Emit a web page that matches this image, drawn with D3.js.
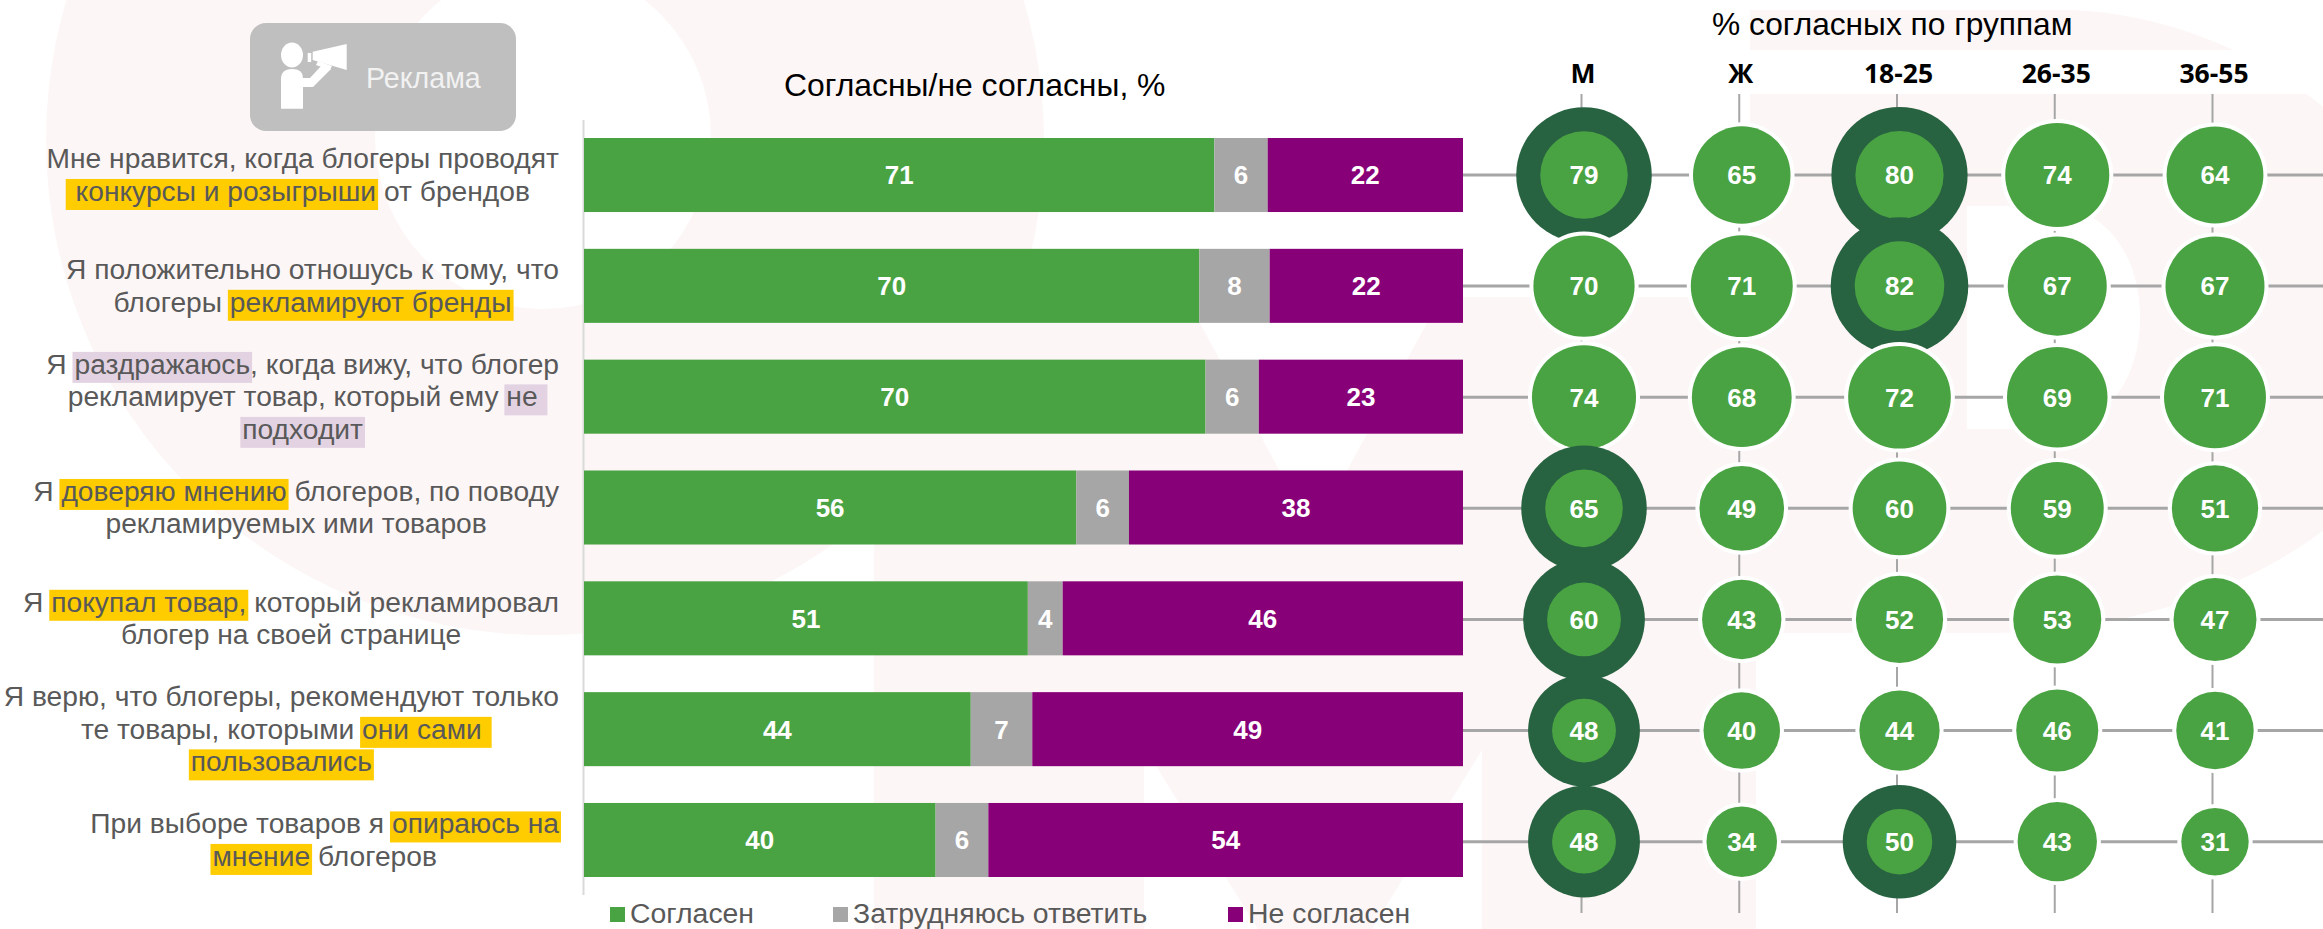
<!DOCTYPE html>
<html lang="ru">
<head>
<meta charset="utf-8">
<title>Реклама у блогеров</title>
<script src="https://cdn.jsdelivr.net/npm/d3@7/dist/d3.min.js"></script>
<style>
  html, body { margin: 0; padding: 0; background: #fff; }
  svg { display: block; }
  text { font-family: "Liberation Sans", Arial, sans-serif; white-space: pre; }
</style>
</head>
<body>
<svg id="chart" width="2323" height="929"></svg>
<script>
// Survey data
const agree    = [71, 70, 70, 56, 51, 44, 40];
const unsure   = [6, 8, 6, 6, 4, 7, 6];
const disagree = [22, 22, 23, 38, 46, 49, 54];

const groups = ["М", "Ж", "18-25", "26-35", "36-55"];
const groupM      = [79, 70, 74, 65, 60, 48, 48];
const groupF      = [65, 71, 68, 49, 43, 40, 34];
const group18to25 = [80, 82, 72, 60, 52, 44, 50];
const group26to35 = [74, 67, 69, 59, 53, 46, 43];
const group36to55 = [64, 67, 71, 51, 47, 41, 31];
const groupValues = [groupM, groupF, group18to25, group26to35, group36to55];

// Cells that stand out from the average, as [group index, statement index]
const standout = [[0, 0], [0, 3], [0, 4], [0, 5], [0, 6], [2, 0], [2, 1], [2, 6]];

const legendLabels = ["Согласен", "Затрудняюсь ответить", "Не согласен"];

// Statements by line; the second item of a segment names its marker ("y" or "p")
const statements = [
  [[["Мне нравится, когда блогеры проводят"]],
   [[" конкурсы и розыгрыши", "y"], [" от брендов"]]],
  [[["Я положительно отношусь к тому, что"]],
   [["блогеры "], ["рекламируют бренды", "y"]]],
  [[["Я "], ["раздражаюсь", "p"], [", когда вижу, что блогер"]],
   [["рекламирует товар, который ему "], ["не ", "p"]],
   [["подходит", "p"]]],
  [[["Я "], ["доверяю мнению", "y"], [" блогеров, по поводу"]],
   [["рекламируемых ими товаров"]]],
  [[["Я "], ["покупал товар,", "y"], [" который рекламировал"]],
   [["блогер на своей странице"]]],
  [[["Я верю, что блогеры, рекомендуют только"]],
   [["те товары, которыми "], ["они сами ", "y"]],
   [["пользовались", "y"]]],
  [[["При выборе товаров я "], ["опираюсь на", "y"]],
   [["мнение", "y"], [" блогеров"]]]
];

const colors = { agree: "#4aa343", unsure: "#a6a6a6", disagree: "#880078", ring: "#286341" };
const markerFill = { y: "#ffcc00", p: "#e3d3e2" };
const textGrey = "#595959";
const wash = "#fdf6f6";

const svg = d3.select("#chart");

// Pale backdrop lettering
const backdrop = svg.append("g").attr("fill", wash);
const ellipsePath = (cx, cy, rx, ry) =>
  `M${cx - rx},${cy}A${rx},${ry} 0 1 0 ${cx + rx},${cy}A${rx},${ry} 0 1 0 ${cx - rx},${cy}Z`;

backdrop.append("path")
  .attr("fill-rule", "evenodd")
  .attr("d", ellipsePath(545, 140, 499, 495) + ellipsePath(543, 137, 168, 172));

backdrop.append("path")
  .attr("d", d3.line()([[874, 297], [1186, 297], [1313, 533], [1441, 297], [1756, 297], [1756, 929],
    [1482, 929], [1482, 750], [1372, 929], [1258, 929], [1144, 747], [1144, 929], [874, 929]]) + "Z");

backdrop.append("path")
  .attr("fill-rule", "evenodd")
  .attr("d", "M1750 10H2060C2250 10 2440 160 2440 320C2440 500 2230 633 1985 633H1750Z" +
             "M1967 206H2050C2105 206 2140 255 2140 317C2140 380 2105 429 2050 429H1967Z");

svg.append("rect").attr("x", 1480).attr("y", 50).attr("width", 843).attr("height", 44).attr("fill", "#fff");

// Stacked bars, each normalised to the full width
const x = d3.scaleLinear().domain([0, 1]).range([584, 1463]);
const rowIndex = d3.range(agree.length);
const barY = d3.scaleBand().domain(rowIndex).range([138, 877]).paddingInner(0.332);

const keys = ["agree", "unsure", "disagree"];
const rows = rowIndex.map(i => ({ agree: agree[i], unsure: unsure[i], disagree: disagree[i] }));
const stacked = d3.stack().keys(keys).offset(d3.stackOffsetExpand)(rows);

svg.append("line")
  .attr("x1", 583.5).attr("x2", 583.5).attr("y1", 120).attr("y2", 895)
  .attr("stroke", "#d9d9d9").attr("stroke-width", 2);

const layers = svg.append("g").selectAll("g").data(stacked).join("g")
  .attr("fill", d => colors[d.key]);

layers.selectAll("rect").data(d => d).join("rect")
  .attr("x", d => x(d[0]))
  .attr("width", d => x(d[1]) - x(d[0]))
  .attr("y", (d, i) => barY(i))
  .attr("height", barY.bandwidth());

layers.each(function (layer) {
  d3.select(this).selectAll("text").data(layer).join("text")
    .attr("x", d => (x(d[0]) + x(d[1])) / 2)
    .attr("y", (d, i) => barY(i) + barY.bandwidth() / 2)
    .attr("dy", "0.36em")
    .attr("text-anchor", "middle")
    .attr("fill", "#fff")
    .attr("font-size", 26)
    .attr("font-weight", 700)
    .text((d, i) => rows[i][layer.key]);
});

// Statement text with coloured markers behind some of the words
const labelRight = 559;
const lineStep = 32.5;
const labelSize = 28.2;
const labelLayer = svg.append("g");
const probe = labelLayer.append("text").attr("font-size", labelSize).attr("visibility", "hidden");
const measure = s => { probe.text(s.replace(/ /g, "\u00a0")); return probe.node().getComputedTextLength(); };

statements.forEach((lines, row) => {
  const fullLines = lines.map(l => l.map(s => s[0]).join(""));
  const inkWidths = fullLines.map(s => measure(s.trim()));
  const blockCentre = labelRight - d3.max(inkWidths) / 2;
  const yMid = barY(row) + barY.bandwidth() / 2;
  lines.forEach((segments, li) => {
    const baseline = yMid + (li - (lines.length - 1) / 2) * lineStep + 9.7;
    const lead = fullLines[li].length - fullLines[li].trimStart().length;
    let cursor = blockCentre - inkWidths[li] / 2 - (lead ? measure(" ".repeat(lead)) : 0);
    segments.forEach(([txt, mark]) => {
      const w = measure(txt);
      if (mark) {
        labelLayer.append("rect")
          .attr("x", cursor - 2).attr("width", w + 4)
          .attr("y", baseline - 22).attr("height", 31)
          .attr("fill", markerFill[mark]);
      }
      cursor += w;
    });
    cursor = blockCentre - inkWidths[li] / 2 - (lead ? measure(" ".repeat(lead)) : 0);
    segments.forEach(([txt]) => {
      labelLayer.append("text")
        .attr("x", cursor).attr("y", baseline)
        .attr("font-size", labelSize).attr("fill", textGrey)
        .text(txt.replace(/ /g, "\u00a0"));
      cursor += measure(txt);
    });
  });
});
probe.remove();

// Panel titles
svg.append("text").attr("x", 784).attr("y", 96).attr("font-size", 31.9).attr("fill", "#000")
  .text("Согласны/не согласны, %");
svg.append("text").attr("x", 1712).attr("y", 35).attr("font-size", 31.7).attr("fill", "#000")
  .text("% согласных по группам");

// Group matrix: grid lines first, then circles row by row
const cellX = d3.scalePoint().domain(groups).range([1584, 2215]);
const cellY = d3.scalePoint().domain(rowIndex).range([175, 841.7]);
const radius = d3.scaleSqrt().domain([0, 100]).range([0, 60.5]);
const gridColor = "#a6a6a6";

const grid = svg.append("g").attr("stroke", gridColor);
grid.selectAll("line.h").data(rowIndex).join("line").attr("class", "h")
  .attr("x1", 1463).attr("x2", 2323)
  .attr("y1", d => cellY(d)).attr("y2", d => cellY(d))
  .attr("stroke-width", 3);
grid.selectAll("line.v").data(groups).join("line").attr("class", "v")
  .attr("x1", d => cellX(d) - 2.5).attr("x2", d => cellX(d) - 2.5)
  .attr("y1", 94).attr("y2", 913)
  .attr("stroke-width", 2);

svg.append("g").selectAll("text").data(groups).join("text")
  .attr("x", d => cellX(d) - 1)
  .attr("y", 83)
  .attr("text-anchor", "middle")
  .style("font-family", "'Open Sans', sans-serif")
  .attr("font-weight", 700)
  .attr("font-size", 26.5)
  .attr("fill", "#000")
  .text(d => d);

const isStandout = (g, r) => standout.some(([a, b]) => a === g && b === r);
const cells = rowIndex.flatMap(r => groups.map((name, g) => ({
  name, row: r, value: groupValues[g][r], marked: isStandout(g, r)
})));

const cell = svg.append("g").selectAll("g").data(cells).join("g")
  .attr("transform", d => `translate(${cellX(d.name)},${cellY(d.row)})`);

cell.append("circle")
  .attr("r", d => d.marked ? radius(d.value) + 14 : radius(d.value) + 4)
  .attr("fill", d => d.marked ? colors.ring : "#fff");
cell.append("circle")
  .attr("r", d => d.marked ? radius(d.value) - 10 : radius(d.value))
  .attr("fill", colors.agree);
cell.append("text")
  .attr("text-anchor", "middle")
  .attr("dy", "0.36em")
  .attr("fill", "#fff")
  .attr("font-size", 26)
  .attr("font-weight", 700)
  .text(d => d.value);

// Legend
const legendX = d3.scaleOrdinal().domain(keys).range([610, 833, 1228]);
const legend = svg.append("g").selectAll("g").data(keys).join("g")
  .attr("transform", d => `translate(${legendX(d)},907)`);
legend.append("rect").attr("width", 15).attr("height", 15).attr("fill", d => colors[d]);
legend.append("text")
  .attr("x", 20).attr("y", 16)
  .attr("font-size", 28.4).attr("fill", textGrey)
  .text((d, i) => legendLabels[i]);

// Section badge with a speaker pictogram
const badge = svg.append("g");
badge.append("rect").attr("x", 250).attr("y", 23).attr("width", 266).attr("height", 108)
  .attr("rx", 16).attr("fill", "#bfbfbf");
const pictogram = badge.append("g").attr("fill", "#fff");
pictogram.append("ellipse").attr("cx", 292).attr("cy", 55).attr("rx", 11).attr("ry", 12.5);
pictogram.append("path").attr("d",
  "M281 108.7V79Q281 69 292 69Q303 69 303 78H310L322 65L331 69L313 87H303V108.7Z");
pictogram.append("path").attr("d", "M312.7 51.7L346.7 44V70L312.7 60Z");
pictogram.append("rect").attr("x", 307.7).attr("y", 53).attr("width", 3.5).attr("height", 9);
pictogram.append("path").attr("d", "M318 61L332 66L330 70L316 65Z");
badge.append("text").attr("x", 366).attr("y", 88).attr("font-size", 28.6).attr("fill", "#f2f2f2")
  .text("Реклама");
</script>
</body>
</html>
